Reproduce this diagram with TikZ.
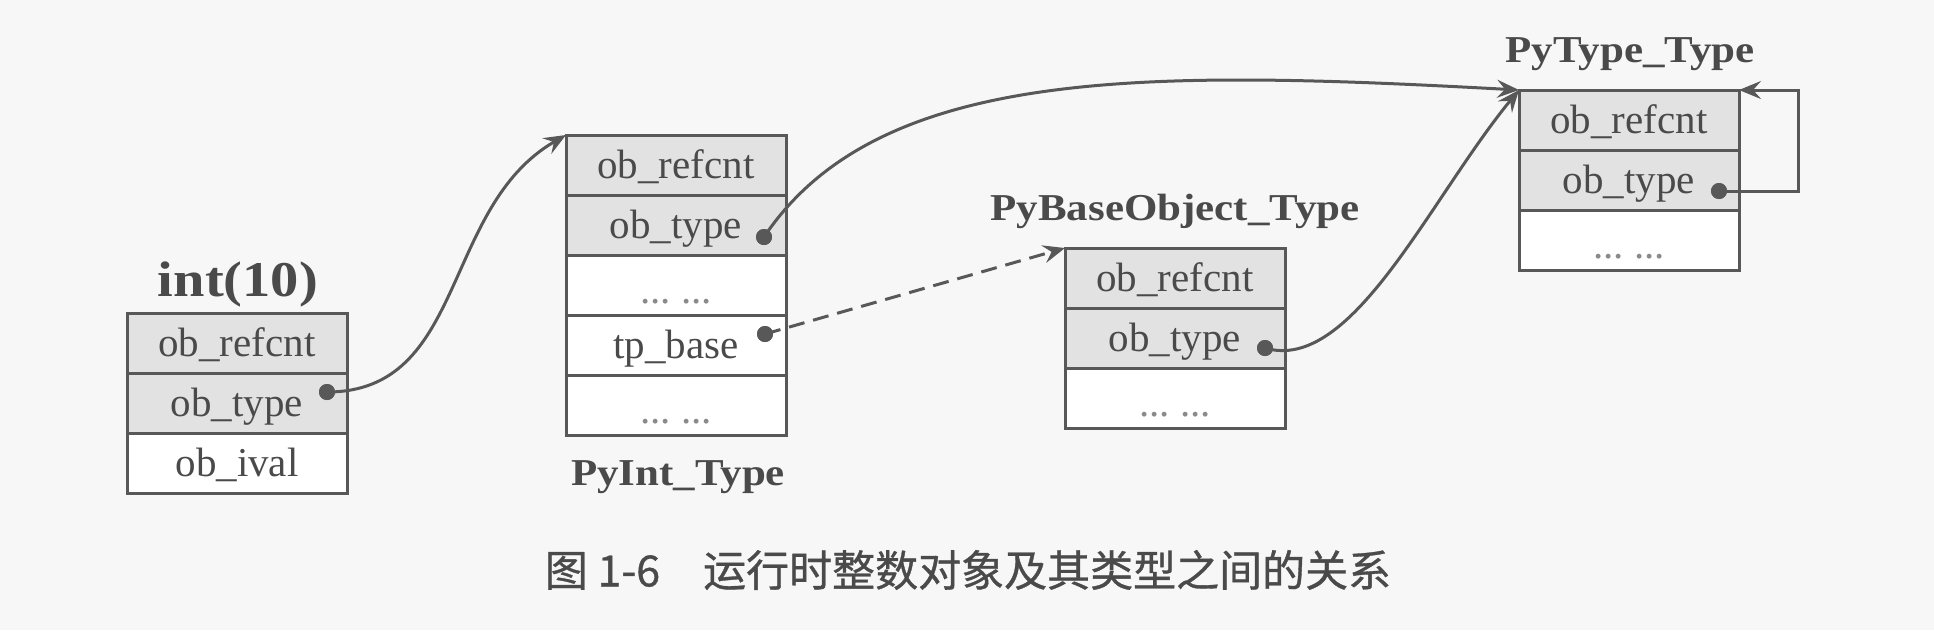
\documentclass[tikz,border=0pt]{standalone}
\usepackage{fontspec}
\setmainfont{Liberation Serif}
\newfontfamily\labfont[FakeStretch=1.13]{Liberation Serif Bold}
\newfontfamily\cjkfont[FakeBold=0.8]{Noto Sans CJK SC}
\usetikzlibrary{arrows.meta}
\definecolor{ink}{HTML}{585858}
\definecolor{txt}{HTML}{4A4A4A}
\definecolor{shade}{HTML}{E2E2E2}
\definecolor{paper}{HTML}{F7F7F7}
\definecolor{dotc}{HTML}{8A8A8A}
\tikzset{
  field/.style={draw=ink, line width=3pt, fill=white, minimum width=220pt, minimum height=60pt,
    inner sep=0pt, outer sep=0pt, anchor=north, text=txt,
    font=\fontsize{41}{41}\selectfont, text height=30pt, text depth=4pt},
  shaded/.style={fill=shade},
  ptr/.style={circle, fill=ink, draw=none, inner sep=0pt, minimum size=16pt},
  link/.style={draw=ink, line width=3pt, -{Stealth[length=22pt,width=18pt,inset=8pt]}},
  title/.style={text=txt, anchor=base, inner sep=0pt, font=\labfont\fontsize{38}{38}\selectfont},
}
\newcommand{\gap}{\raisebox{-5pt}{\color{dotc}...\ ...}}
\begin{document}
\begin{tikzpicture}[x=1pt,y=-1pt]
\useasboundingbox (0,0) rectangle (1934,630);
\fill[paper] (0,0) rectangle (1934,630);

% int(10)
\node[field,shaded,anchor=north west] (a1) at (127,313) {ob\_refcnt};
\node[field,shaded] (a2) at (a1.south) {ob\_type};
\node[field] (a3) at (a2.south) {ob\_ival};
\node[title,font=\labfont\fontsize{50}{50}\selectfont] (la) at (238,296) {int(10)};

% PyInt_Type
\node[field,shaded,anchor=north west] (b1) at (566,135) {ob\_refcnt};
\node[field,shaded] (b2) at (b1.south) {ob\_type};
\node[field] (b3) at (b2.south) {\gap};
\node[field] (b4) at (b3.south) {tp\_base};
\node[field] (b5) at (b4.south) {\gap};
\node[title] (lb) at (678,485) {PyInt\_Type};

% PyBaseObject_Type
\node[field,shaded,anchor=north west] (c1) at (1065,248) {ob\_refcnt};
\node[field,shaded] (c2) at (c1.south) {ob\_type};
\node[field] (c3) at (c2.south) {\gap};
\node[title] (lc) at (1175,220) {PyBaseObject\_Type};

% PyType_Type
\node[field,shaded,anchor=north west] (t1) at (1519,90) {ob\_refcnt};
\node[field,shaded] (t2) at (t1.south) {ob\_type};
\node[field] (t3) at (t2.south) {\gap};
\node[title] (lt) at (1630,62) {PyType\_Type};

% pointer dots
\node[ptr] (d1) at ([shift={(-20,-11)}]a2.east) {};
\node[ptr] (d2) at ([shift={(-22,12)}]b2.east) {};
\node[ptr] (d3) at ([shift={(-21,-11)}]b4.east) {};
\node[ptr] (d4) at ([shift={(-20,10)}]c2.east) {};
\node[ptr] (d5) at ([shift={(-20,11)}]t2.east) {};
\coordinate (loopx) at (1798,87);

% connectors
\draw[link] (d1.center) .. controls +(140,0) and +(-125,72) .. (b1.north west);
\draw[link] (d2.center) .. controls +(115,-172) and +(-369,-20) .. (t1.north west);
\draw[link,dash pattern=on 16pt off 9pt] (d3.center) -- (c1.north west);
\draw[link] (d4.center) .. controls +(87,26) and +(-89,108) .. (t1.north west);
\draw[link] (d5.center) -- (d5.center -| loopx) |- (t1.north east);

% redraw dots on top
\foreach \d in {d1,d2,d3,d4,d5} \fill[ink] (\d) circle (8pt);

% caption
\node[text=txt, inner sep=0pt, font=\cjkfont\fontsize{43}{43}\selectfont] (cap) at (968,570)
  {图 1-6\quad 运行时整数对象及其类型之间的关系};
\end{tikzpicture}
\end{document}
